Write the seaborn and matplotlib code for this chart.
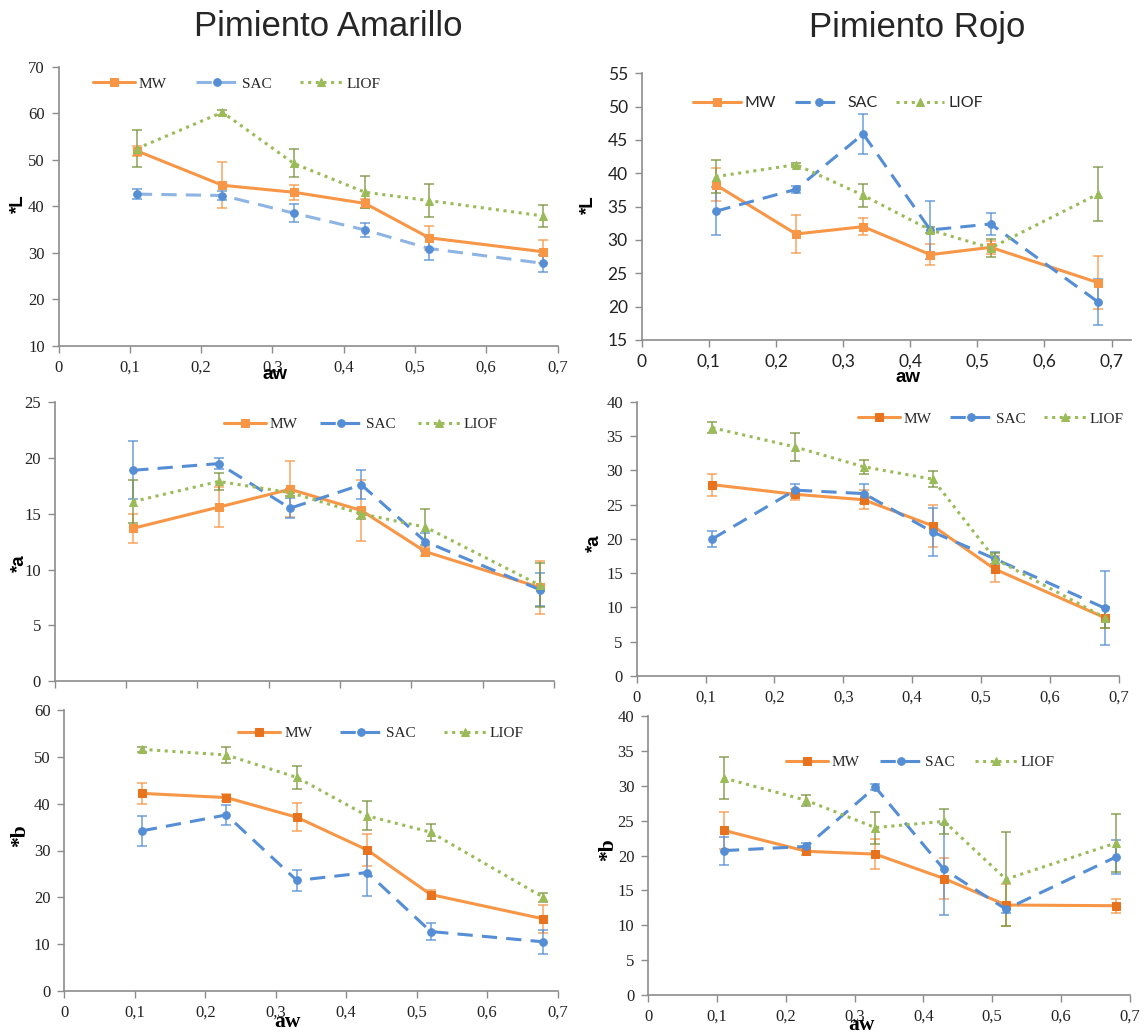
import matplotlib
matplotlib.use("Agg")
import matplotlib.pyplot as plt
from matplotlib.ticker import FuncFormatter
import seaborn as sns

# water activity levels
aw = [0.11, 0.23, 0.33, 0.43, 0.52, 0.68]

# Pimiento Amarillo, *L
am_L_mw = [51.9, 44.5, 43.0, 40.6, 33.2, 30.2]
am_L_mw_err = [1.0, 4.9, 1.6, 1.0, 2.6, 2.5]
am_L_sac = [42.6, 42.3, 38.5, 34.9, 30.9, 27.7]
am_L_sac_err = [1.0, 1.0, 2.0, 1.5, 2.5, 1.8]
am_L_liof = [52.4, 60.2, 49.2, 43.0, 41.2, 37.9]
am_L_liof_err = [4.0, 0.5, 3.0, 3.4, 3.5, 2.4]

# Pimiento Rojo, *L
ro_L_mw = [38.3, 30.9, 32.0, 27.8, 28.9, 23.6]
ro_L_mw_err = [2.5, 2.9, 1.3, 1.6, 1.0, 4.0]
ro_L_sac = [34.3, 37.6, 45.9, 31.5, 32.4, 20.7]
ro_L_sac_err = [3.6, 0.5, 3.0, 4.3, 1.7, 3.4]
ro_L_liof = [39.5, 41.3, 36.7, 31.5, 28.8, 36.9]
ro_L_liof_err = [2.5, 0.3, 1.7, 0.5, 1.3, 4.0]

# Pimiento Amarillo, *a
am_a_mw = [13.7, 15.6, 17.2, 15.3, 11.6, 8.4]
am_a_mw_err = [1.3, 1.8, 2.5, 2.7, 0.4, 2.4]
am_a_sac = [18.9, 19.5, 15.5, 17.6, 12.5, 8.2]
am_a_sac_err = [2.6, 0.5, 0.9, 1.3, 0.8, 1.5]
am_a_liof = [16.1, 17.9, 16.9, 15.0, 13.8, 8.6]
am_a_liof_err = [1.9, 0.8, 0.3, 0.5, 1.6, 2.0]

# Pimiento Rojo, *a
ro_a_mw = [27.9, 26.5, 25.7, 21.9, 15.6, 8.5]
ro_a_mw_err = [1.6, 0.8, 1.4, 3.1, 1.9, 1.5]
ro_a_sac = [20.0, 27.1, 26.6, 21.0, 17.1, 9.9]
ro_a_sac_err = [1.2, 0.9, 1.4, 3.5, 1.0, 5.4]
ro_a_liof = [36.2, 33.4, 30.5, 28.7, 17.1, 8.5]
ro_a_liof_err = [0.8, 2.0, 1.0, 1.2, 0.8, 1.5]

# Pimiento Amarillo, *b
am_b_mw = [42.2, 41.3, 37.1, 30.1, 20.6, 15.4]
am_b_mw_err = [2.3, 0.8, 3.0, 3.5, 1.0, 3.0]
am_b_sac = [34.2, 37.6, 23.6, 25.3, 12.7, 10.5]
am_b_sac_err = [3.2, 2.1, 2.2, 5.0, 1.9, 2.6]
am_b_liof = [51.6, 50.4, 45.6, 37.4, 33.9, 20.0]
am_b_liof_err = [0.5, 1.8, 2.4, 3.1, 1.8, 1.0]

# Pimiento Rojo, *b
ro_b_mw = [23.6, 20.6, 20.2, 16.7, 12.9, 12.8]
ro_b_mw_err = [2.6, 0.5, 2.2, 3.0, 3.0, 1.0]
ro_b_sac = [20.7, 21.3, 29.8, 18.0, 12.3, 19.8]
ro_b_sac_err = [2.0, 0.5, 0.4, 6.5, 0.5, 2.4]
ro_b_liof = [31.1, 27.9, 24.0, 24.9, 16.6, 21.8]
ro_b_liof_err = [3.0, 0.8, 2.3, 1.8, 6.7, 4.1]

series_names = ["MW", "SAC", "LIOF"]

sns.set_theme(style="white")
plt.rcParams["font.family"] = ["Liberation Serif", "DejaVu Sans"]

ORANGE = "#F79646"
ORANGE_DK = "#E8731E"
BLUE = "#558ED5"
BLUE_LT = "#8DB4E2"
GREEN = "#9BBB59"
GREEN_DK = "#77933C"
SPINE = "#8C8C8C"

W, H = 1146, 1034
fig = plt.figure(figsize=(W / 100, H / 100), dpi=100)

comma = FuncFormatter(lambda v, p: ("%g" % round(v, 2)).replace(".", ","))


def rect(l, r, t, b):
    return [l / W, 1 - b / H, (r - l) / W, (b - t) / H]


def draw_panel(box, data, ylim, ystep, ylabel, ylab_pos, leg_xy, colsp,
               sans=False, xlab=None, xlabels=True, sac_line=BLUE,
               mw_mk=ORANGE, xmax=0.7, lab_serif=False):
    ax = fig.add_axes(rect(*box))
    tick_font = "Lato" if sans else "Liberation Serif"
    tsize = 12.5 if sans else 12
    lsize = 11.5 if sans else 11
    hlen = 3.0 if sans else 2.75
    styles = [
        dict(color=ORANGE, marker="s", linestyle="-", mfc=mw_mk, ecol=ORANGE),
        dict(color=sac_line, marker="o", linestyle=(0, (5, 3)), mfc=BLUE, ecol=BLUE),
        dict(color=GREEN, marker="^", linestyle=(0, (1, 1.5)), mfc=GREEN, ecol=GREEN_DK),
    ]
    for (vals, err), name, st in zip(data, series_names, styles):
        ax.errorbar(aw, vals, yerr=err, fmt="none", ecolor=st["ecol"],
                    elinewidth=1.1, capsize=3.5, capthick=1.1, zorder=1,
                    alpha=0.85)
        sns.lineplot(x=aw, y=vals, ax=ax, color=st["color"], marker=st["marker"],
                     linestyle=st["linestyle"], linewidth=2.2,
                     markersize=5.5, markerfacecolor=st["mfc"],
                     markeredgecolor=st["mfc"], label=name, zorder=3)
    ax.set_xlim(0, xmax)
    ax.set_ylim(*ylim)
    ax.set_xticks([0, 0.1, 0.2, 0.3, 0.4, 0.5, 0.6, 0.7])
    ax.set_yticks(list(range(ylim[0], ylim[1] + 1, ystep)))
    ax.xaxis.set_major_formatter(comma)
    for s in ["top", "right"]:
        ax.spines[s].set_visible(False)
    for s in ["left", "bottom"]:
        ax.spines[s].set_color(SPINE)
        ax.spines[s].set_linewidth(1.2)
    ax.tick_params(axis="both", direction="out", length=5, width=1,
                   color=SPINE, labelsize=tsize, labelcolor="#222222", pad=5)
    ax.tick_params(axis="x", bottom=True)
    ax.tick_params(axis="y", left=True)
    for lab in ax.get_xticklabels() + ax.get_yticklabels():
        lab.set_fontfamily(tick_font)
    if not xlabels:
        ax.set_xticklabels([])

    lab_font = "Liberation Serif" if lab_serif else "Liberation Sans"
    lab_size = 15.5 if lab_serif else 13.5
    ax.set_xlabel("")
    ax.set_ylabel(ylabel, fontfamily=lab_font, fontweight="bold",
                  fontsize=lab_size, color="black")
    ax.yaxis.set_label_coords(ylab_pos[0] / W, 1 - ylab_pos[1] / H,
                              transform=fig.transFigure)
    ax.yaxis.label.set_va("center")
    if xlab is not None:
        ax.set_xlabel("aw", fontfamily=lab_font, fontweight="bold",
                      fontsize=lab_size, color="black")
        ax.xaxis.set_label_coords(xlab[0] / W, 1 - xlab[1] / H,
                                  transform=fig.transFigure)
        ax.xaxis.label.set_va("center")
    ax.legend(loc="center left", bbox_to_anchor=leg_xy, ncol=3,
              frameon=False, handlelength=hlen, columnspacing=colsp,
              handletextpad=0.25, borderaxespad=0, borderpad=0,
              prop=dict(family=tick_font, size=lsize))
    return ax


draw_panel((58.5, 557.5, 66.7, 345.7),
           [(am_L_mw, am_L_mw_err), (am_L_sac, am_L_sac_err), (am_L_liof, am_L_liof_err)],
           (10, 70), 10, "*L", (18, 204), (0.069, 0.939), 1.9,
           xlab=(275, 375), sac_line=BLUE_LT)

draw_panel((641.7, 1131, 73.3, 340),
           [(ro_L_mw, ro_L_mw_err), (ro_L_sac, ro_L_sac_err), (ro_L_liof, ro_L_liof_err)],
           (15, 55), 5, "*L", (588, 205), (0.104, 0.888), 1.2,
           sans=True, xlab=(908, 377), xmax=0.729)

draw_panel((54.8, 553.8, 402.3, 681),
           [(am_a_mw, am_a_mw_err), (am_a_sac, am_a_sac_err), (am_a_liof, am_a_liof_err)],
           (0, 25), 5, "*a", (19, 563), (0.339, 0.922), 1.45,
           xlabels=False)

draw_panel((636.7, 1118.6, 401.7, 676),
           [(ro_a_mw, ro_a_mw_err), (ro_a_sac, ro_a_sac_err), (ro_a_liof, ro_a_liof_err)],
           (0, 40), 5, "*a", (594, 543), (0.459, 0.937), 1.2,
           mw_mk=ORANGE_DK)

draw_panel((64.4, 557.5, 710, 991),
           [(am_b_mw, am_b_mw_err), (am_b_sac, am_b_sac_err), (am_b_liof, am_b_liof_err)],
           (0, 60), 10, "*b", (20, 836), (0.353, 0.918), 1.83,
           xlab=(287, 1022), mw_mk=ORANGE_DK, lab_serif=True)

draw_panel((648.2, 1129.8, 716, 995),
           [(ro_b_mw, ro_b_mw_err), (ro_b_sac, ro_b_sac_err), (ro_b_liof, ro_b_liof_err)],
           (0, 40), 5, "*b", (608, 850), (0.286, 0.833), 1.3,
           xlab=(861, 1025), mw_mk=ORANGE_DK, lab_serif=True)

fig.text(328 / W, 1 - 27 / H, "Pimiento Amarillo", ha="center", va="center",
         fontsize=25, fontfamily="Liberation Sans")
fig.text(917 / W, 1 - 27 / H, "Pimiento Rojo", ha="center", va="center",
         fontsize=25, fontfamily="Liberation Sans")

fig.savefig("out.png", dpi=100, facecolor="white")
